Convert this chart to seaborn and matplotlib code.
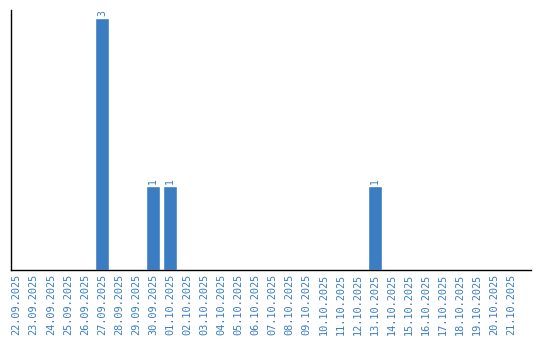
import matplotlib
matplotlib.use("Agg")
import matplotlib.pyplot as plt
import seaborn as sns
import pandas as pd

dates = ["22.09.2025", "23.09.2025", "24.09.2025", "25.09.2025", "26.09.2025",
         "27.09.2025", "28.09.2025", "29.09.2025", "30.09.2025", "01.10.2025",
         "02.10.2025", "03.10.2025", "04.10.2025", "05.10.2025", "06.10.2025",
         "07.10.2025", "08.10.2025", "09.10.2025", "10.10.2025", "11.10.2025",
         "12.10.2025", "13.10.2025", "14.10.2025", "15.10.2025", "16.10.2025",
         "17.10.2025", "18.10.2025", "19.10.2025", "20.10.2025", "21.10.2025"]
counts = [0, 0, 0, 0, 0, 3, 0, 0, 1, 1,
          0, 0, 0, 0, 0, 0, 0, 0, 0, 0,
          0, 1, 0, 0, 0, 0, 0, 0, 0, 0]

df = pd.DataFrame({"date": dates, "count": counts})
blue = "#3a7dc2"

sns.set_style("white")
fig = plt.figure(figsize=(5.4, 3.4), dpi=100)
ax = fig.add_axes([10.5/540, 70/340, 520/540, 260/340])
sns.barplot(data=df, x="date", y="count", color=blue, saturation=1, width=0.82, ax=ax)
ax.set_ylim(0, 3.1)
ax.set_xlim(-0.36, len(dates) + 0.14)
ax.set_xlabel("")
ax.set_ylabel("")
ax.set_yticks([])
ax.tick_params(axis="x", length=0, pad=3)
for lbl in ax.get_xticklabels():
    lbl.set_rotation(90)
    lbl.set_color(blue)
    lbl.set_fontsize(7.4)
    lbl.set_family("DejaVu Sans Mono")
for s in ["top", "right"]:
    ax.spines[s].set_visible(False)
for s in ["left", "bottom"]:
    ax.spines[s].set_color("black")
    ax.spines[s].set_linewidth(1)
for i, v in enumerate(counts):
    if v > 0:
        ax.text(i, v + 0.03, str(v), rotation=90, ha="center", va="bottom",
                color=blue, fontsize=7, family="DejaVu Sans Mono")
fig.savefig("out.png", dpi=100)
